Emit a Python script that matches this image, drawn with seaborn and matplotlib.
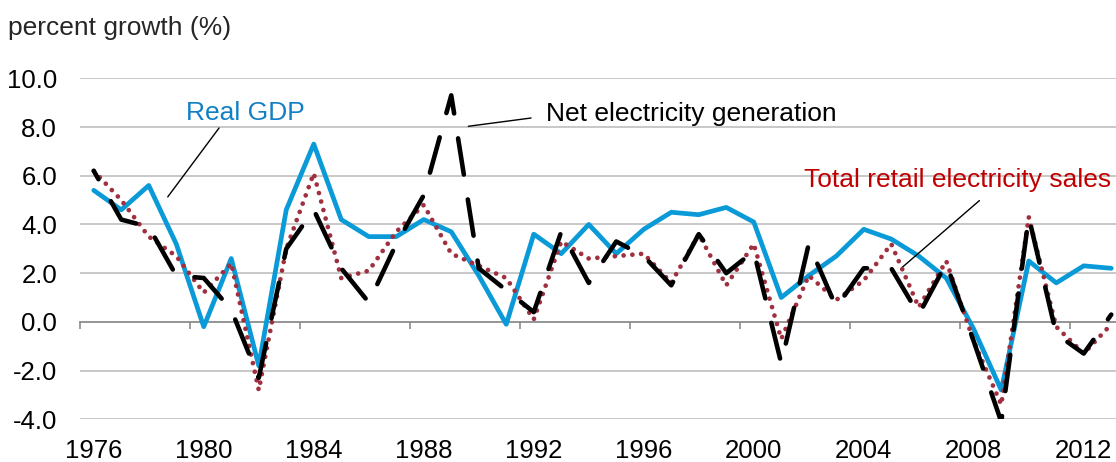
import matplotlib
matplotlib.use("Agg")
import matplotlib.pyplot as plt
import seaborn as sns
import pandas as pd
import numpy as np

years = list(range(1976, 2014))

real_gdp = [5.4, 4.6, 5.6, 3.2, -0.2, 2.6, -1.8, 4.6, 7.3, 4.2,
            3.5, 3.5, 4.2, 3.7, 1.9, -0.1, 3.6, 2.8, 4.0, 2.8,
            3.8, 4.5, 4.4, 4.7, 4.1, 1.0, 1.9, 2.7, 3.8, 3.4,
            2.7, 1.8, -0.3, -2.8, 2.5, 1.6, 2.3, 2.2]

net_generation = [6.2, 4.2, 3.9, 1.9, 1.8, 0.5, -2.3, 3.0, 4.6, 2.2,
                  0.8, 3.2, 5.2, 9.3, 2.2, 1.3, 0.4, 3.7, 1.6, 3.3,
                  2.7, 1.5, 3.6, 2.0, 2.9, -1.7, 3.2, 0.6, 2.2, 2.2,
                  0.3, 2.4, -0.8, -4.1, 4.3, -0.5, -1.3, 0.3]

retail_sales = [6.2, 5.0, 3.5, 2.7, 1.2, 2.4, -2.8, 3.0, 6.1, 1.8,
                2.1, 3.7, 4.8, 2.8, 2.3, 1.8, 0.1, 3.3, 2.6, 2.7,
                2.8, 1.6, 3.6, 1.5, 3.2, -0.7, 1.9, 0.9, 1.7, 3.2,
                0.6, 2.5, -0.8, -3.4, 4.3, -0.2, -1.3, -0.1]

y_ticks = [-4, -2, 0, 2, 4, 6, 8, 10]
x_label_years = list(range(1976, 2013, 4))

df = pd.DataFrame({"year": years, "gdp": real_gdp,
                   "gen": net_generation, "sales": retail_sales})

sns.set_style("white")
plt.rcParams["font.family"] = ["Liberation Sans", "DejaVu Sans"]

W, H = 1116, 462
DPI = 100
fig = plt.figure(figsize=(W / DPI, H / DPI), dpi=DPI)
x0, x1 = 80, 80 + 38 * 27.5
y_top, y_bot = 78.3, 419.3
ax = fig.add_axes([x0 / W, (H - y_bot) / H, (x1 - x0) / W, (y_bot - y_top) / H])
ax.set_xlim(1975.5, 2013.5)
ax.set_ylim(-4, 10)

blue = "#0A9AD8"
red_dots = "#A0303F"

# long-dash pattern (in line widths); phase chosen so the highest
# generation peak sits in the middle of a dash
gen_lw = 3.3
dash_on, dash_off = 8.0, 5.5
pts = ax.transData.transform(np.column_stack([years, net_generation]))
seg = np.hypot(*np.diff(pts, axis=0).T) * 72 / DPI / gen_lw
peak_idx = int(np.argmax(net_generation))
dist_to_peak = seg[:peak_idx].sum()
dash_offset = (dash_on / 2 - dist_to_peak) % (dash_on + dash_off)

sns.lineplot(data=df, x="year", y="gdp", ax=ax, color=blue, linewidth=3.4,
             solid_joinstyle="round", zorder=3)
sns.lineplot(data=df, x="year", y="sales", ax=ax, color=red_dots, linewidth=3.4,
             linestyle=(0, (0.01, 1.85)), dash_capstyle="round", zorder=4)
sns.lineplot(data=df, x="year", y="gen", ax=ax, color="black", linewidth=gen_lw,
             linestyle=(dash_offset, (dash_on, dash_off)), dash_capstyle="round",
             dash_joinstyle="round", zorder=5)

ax.set_xlim(1975.5, 2013.5)
ax.set_ylim(-4, 10)
ax.set_xlabel("")
ax.set_ylabel("")

for s in ax.spines.values():
    s.set_visible(False)

ax.set_yticks(y_ticks)
ax.set_yticklabels([f"{v:.1f}" for v in y_ticks])
ax.tick_params(axis="y", length=0, pad=16.5, labelsize=18.5, labelcolor="black")
for v in y_ticks:
    if v != 0:
        ax.axhline(v, color="#BFBFBF", linewidth=1.2, zorder=1)

ax.set_xticks(x_label_years)
ax.set_xticklabels([str(y) for y in x_label_years])
ax.tick_params(axis="x", length=0, pad=14, labelsize=18.5, labelcolor="black")

# category axis crossing at zero, with tick marks between categories
zero_axis = ax.secondary_xaxis(4 / 14)
zero_axis.spines["bottom"].set_color("#8C8C8C")
zero_axis.spines["bottom"].set_linewidth(1.3)
zero_axis.set_xticks([b - 0.5 for b in x_label_years])
zero_axis.tick_params(axis="x", direction="out", length=5, width=1.2,
                      color="#8C8C8C", labelbottom=False)
zero_axis.set_zorder(2)

fig.text(8 / W, 1 - 35 / H, "percent growth (%)", fontsize=19,
         ha="left", va="baseline")

ax.annotate("Real GDP", xy=(1978.69, 5.13), xytext=(1979.35, 8.30),
            fontsize=19, color="#127FC5", ha="left", va="baseline",
            arrowprops=dict(arrowstyle="-", color="black", lw=1.0,
                            shrinkA=0, shrinkB=0, relpos=(0.3, 0)))
ax.annotate("Net electricity generation", xy=(1989.62, 8.03), xytext=(1992.43, 8.23),
            fontsize=19, color="black", ha="left", va="baseline",
            arrowprops=dict(arrowstyle="-", color="black", lw=1.0,
                            shrinkA=0, shrinkB=0, relpos=(-0.05, 0.35)))
ax.annotate("Total retail electricity sales", xy=(2005.38, 2.22), xytext=(2001.84, 5.53),
            fontsize=19, color="#C00000", ha="left", va="baseline",
            arrowprops=dict(arrowstyle="-", color="black", lw=1.0,
                            shrinkA=0, shrinkB=0, relpos=(0.57, -0.35)))

fig.savefig("out.png", dpi=DPI)
